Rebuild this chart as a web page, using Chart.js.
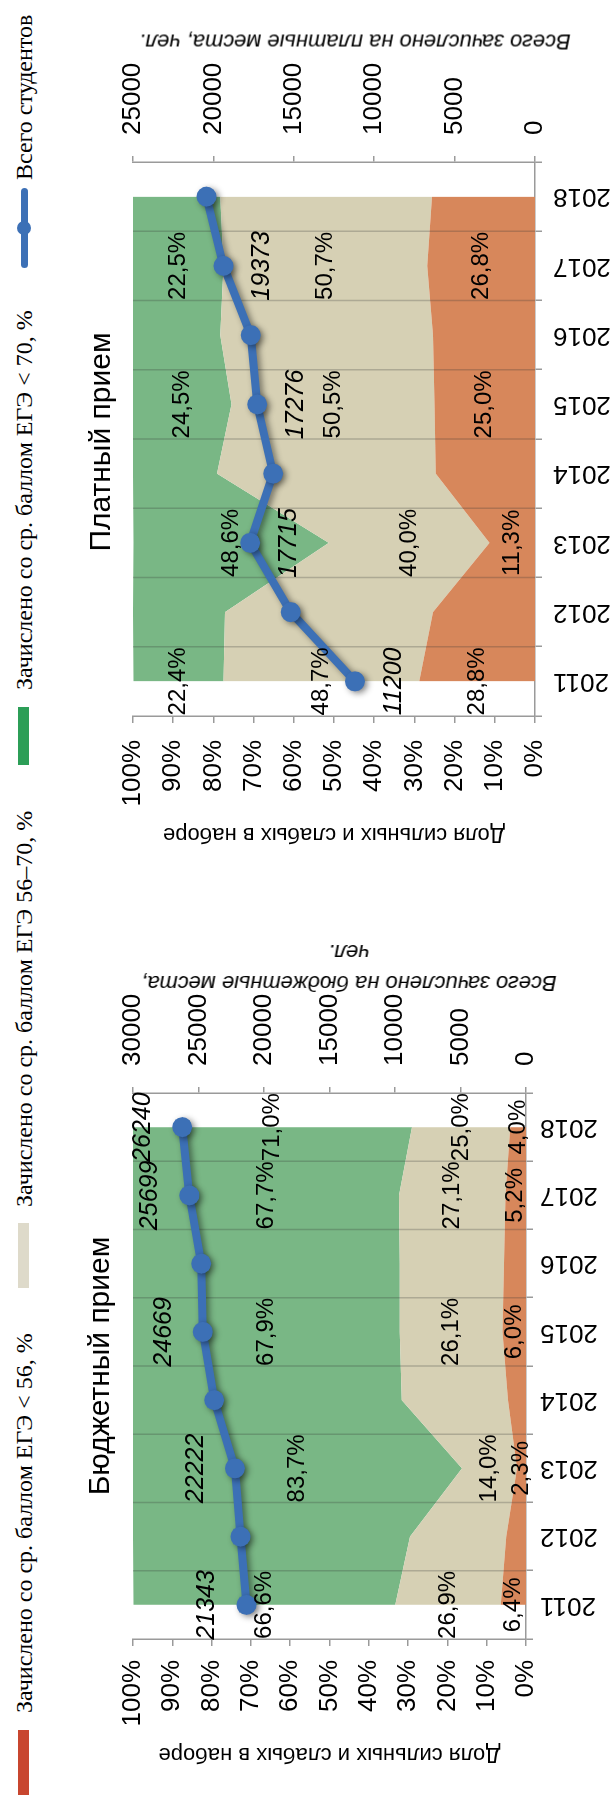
<!DOCTYPE html>
<html lang="ru">
<head>
<meta charset="UTF-8">
<title>Бюджетный и платный прием</title>
<script src="https://cdn.jsdelivr.net/npm/chart.js"></script>
<style>
    html, body { margin: 0; padding: 0; background: #fff; }
    body { width: 610px; height: 1799px; overflow: hidden; position: relative; }
    /* the picture is laid out landscape and turned a quarter to the left */
    #land {
        position: absolute; left: 0; top: 0;
        width: 1799px; height: 610px;
        transform-origin: 0 0;
        transform: translateY(1799px) rotate(-90deg);
        font-family: "Liberation Sans", Arial, sans-serif;
        color: #000;
    }
    canvas { position: absolute; top: 0; }
    .legend {
        position: absolute; top: 10px;
        font-family: "Liberation Serif", "Times New Roman", serif;
        font-size: 24px; line-height: 28px; white-space: nowrap;
    }
    .swatch { position: absolute; top: 18px; width: 65px; height: 11px; }
    .title { position: absolute; font-size: 30px; white-space: nowrap; transform: translate(-50%, -50%); }
    .rtitle {
        position: absolute; font-size: 22px; font-style: italic; line-height: 31px;
        text-align: center; white-space: nowrap;
        transform: translate(-50%, -50%) rotate(-90deg);
    }
</style>
</head>
<body>
<div id="land">
    <div class="swatch" style="left:4px; background:#c8462f"></div>
    <div class="legend" style="left:86px">Зачислено со ср. баллом ЕГЭ &lt; 56, %</div>
    <div class="swatch" style="left:511px; background:#dedaca"></div>
    <div class="legend" style="left:592px">Зачислено со ср. баллом ЕГЭ 56–70, %</div>
    <div class="swatch" style="left:1034px; width:58px; background:#2c9e57"></div>
    <div class="legend" style="left:1109px">Зачислено со ср. баллом ЕГЭ &lt; 70, %</div>
    <div style="position:absolute; left:1531px; top:21px; width:80px; height:7px; border-radius:4px; background:#3c70b6"></div>
    <div style="position:absolute; left:1564px; top:17px; width:14px; height:14px; border-radius:50%; background:#3c70b6"></div>
    <div class="legend" style="left:1619px">Всего студентов</div>

    <canvas id="budget" width="900" height="610" style="left:0"></canvas>
    <canvas id="paid" width="899" height="610" style="left:900px"></canvas>

    <div class="title" style="left:433px; top:99px">Бюджетный прием</div>
    <div class="title" style="left:1357px; top:100px">Платный прием</div>
    <div class="rtitle" style="left:831px; top:349px">Всего зачислено на бюджетные места,<br>чел.</div>
    <div class="rtitle" style="left:1757px; top:355px">Всего зачислено на платные места, чел.</div>
</div>

<script>
    const years = ["2011", "2012", "2013", "2014", "2015", "2016", "2017", "2018"];

    // Бюджетный прием, % of intake per score band, and total enrolled
    const budgetLow = [6.4, 5.0, 2.3, 4.6, 6.0, 5.6, 5.2, 4.0];
    const budgetMid = [26.9, 24.5, 14.0, 27.0, 26.1, 26.5, 27.1, 25.0];
    const budgetHigh = [66.6, 70.5, 83.7, 68.4, 67.9, 67.9, 67.7, 71.0];
    const budgetTotal = [21343, 21800, 22222, 23800, 24669, 24790, 25699, 26240];
    const budgetLabelled = [0, 2, 4, 6, 7];

    // Платный прием
    const paidLow = [28.8, 25.4, 11.3, 24.7, 25.0, 25.4, 26.8, 25.6];
    const paidMid = [48.7, 51.7, 40.0, 54.4, 50.5, 52.9, 50.7, 52.7];
    const paidHigh = [22.4, 22.9, 48.6, 20.9, 24.5, 21.7, 22.5, 21.7];
    const paidTotal = [11200, 15190, 17715, 16285, 17276, 17675, 19373, 20430];
    const paidLabelled = [0, 2, 4, 6];

    const lowColor = "#d7875b";
    const midColor = "#d6d0b4";
    const highColor = "#79b785";
    const lineColor = "#3c70b6";
    const axisColor = "#9a9a9a";

    Chart.defaults.font.family = '"Liberation Sans", Arial, sans-serif';
    Chart.defaults.color = "#000";

    const pct = v => v.toFixed(1).replace(".", ",") + "%";

    // gridlines over the areas, shadow under the line, data labels
    const overlay = {
        id: "overlay",
        beforeDatasetDraw(chart, args) {
            if (args.index === 0) {
                const ctx = chart.ctx;
                ctx.save();
                ctx.shadowColor = "rgba(0,0,0,0.45)";
                ctx.shadowBlur = 6;
                ctx.shadowOffsetX = -2;
                ctx.shadowOffsetY = 3;
            }
        },
        afterDatasetDraw(chart, args) {
            const ctx = chart.ctx;
            if (args.index === 0) {
                ctx.restore();
                return;
            }
            if (args.index === 1) {
                const x = chart.scales.x;
                const area = chart.chartArea;
                ctx.save();
                ctx.strokeStyle = "rgba(50,50,50,0.25)";
                ctx.lineWidth = 1.5;
                for (let i = 1; i < years.length; i++) {
                    const px = (x.getPixelForValue(i - 1) + x.getPixelForValue(i)) / 2;
                    ctx.beginPath();
                    ctx.moveTo(px, area.top);
                    ctx.lineTo(px, area.bottom);
                    ctx.stroke();
                }
                ctx.restore();
            }
        },
        afterDatasetsDraw(chart, args, opts) {
            const ctx = chart.ctx;
            const x = chart.scales.x, y = chart.scales.y, y2 = chart.scales.y2;
            ctx.save();
            ctx.fillStyle = "#000";
            ctx.textAlign = "center";
            ctx.textBaseline = "middle";
            opts.at.forEach(i => {
                const px = x.getPixelForValue(i);
                let base = 0;
                ctx.font = '24px "Liberation Sans", Arial, sans-serif';
                [opts.low[i], opts.mid[i], opts.high[i]].forEach(v => {
                    ctx.fillText(pct(v), px, y.getPixelForValue(base + v / 2));
                    base += v;
                });
                ctx.font = 'italic 25px "Liberation Sans", Arial, sans-serif';
                ctx.fillText(String(opts.total[i]), px, y2.getPixelForValue(opts.total[i]) + opts.shift);
            });
            ctx.restore();
        }
    };

    function areaSet(values, color, fill) {
        return {
            data: values, yAxisID: "y", fill: fill,
            backgroundColor: color, borderColor: color, borderWidth: 0,
            pointRadius: 0, pointHoverRadius: 0, tension: 0
        };
    }

    function buildChart(id, d) {
        return new Chart(document.getElementById(id), {
            type: "line",
            data: {
                labels: years,
                datasets: [
                    {
                        data: d.total, yAxisID: "y2", fill: false,
                        borderColor: lineColor, backgroundColor: lineColor,
                        borderWidth: 8, borderJoinStyle: "round", borderCapStyle: "round",
                        pointRadius: 10, pointHoverRadius: 10, pointBorderWidth: 0,
                        pointBackgroundColor: lineColor, tension: 0
                    },
                    areaSet(d.low, lowColor, "origin"),
                    areaSet(d.mid, midColor, "-1"),
                    areaSet(d.high, highColor, "-1")
                ]
            },
            options: {
                responsive: false,
                animation: false,
                devicePixelRatio: 1,
                layout: { padding: { top: d.top, left: 0, right: 0, bottom: 0 } },
                plugins: {
                    legend: { display: false },
                    tooltip: { enabled: false },
                    overlay: { at: d.at, low: d.low, mid: d.mid, high: d.high, total: d.total, shift: d.shift }
                },
                scales: {
                    x: {
                        offset: true,
                        grid: { offset: true, drawOnChartArea: false, tickLength: 7, color: axisColor, lineWidth: 1.5 },
                        border: { color: axisColor, width: 1.5 },
                        ticks: { font: { size: 26 }, minRotation: 90, maxRotation: 90, autoSkip: false, padding: d.xPad },
                        afterFit: s => { s.height = d.xHeight; }
                    },
                    y: {
                        position: "left", stacked: true, min: 0, max: 100,
                        grid: { drawOnChartArea: false, tickLength: 7, color: axisColor, lineWidth: 1.5 },
                        border: { color: axisColor, width: 1.5 },
                        ticks: { stepSize: 10, font: { size: 26 }, padding: d.yPad, callback: v => v + "%" },
                        title: {
                            display: true, text: "Доля сильных и слабых в наборе",
                            font: { size: 22 }, padding: { top: d.titlePad, bottom: 0 }
                        },
                        afterFit: s => { s.width = d.yWidth; }
                    },
                    y2: {
                        position: "right", min: 0, max: d.totalMax,
                        grid: { drawOnChartArea: false, tickLength: 6, color: axisColor, lineWidth: 1.5 },
                        border: { color: axisColor, width: 1.5 },
                        ticks: { stepSize: 5000, font: { size: 26 }, padding: 21, callback: v => String(v) },
                        afterFit: s => { s.width = d.y2Width; }
                    }
                }
            },
            plugins: [overlay]
        });
    }

    buildChart("budget", {
        low: budgetLow, mid: budgetMid, high: budgetHigh, total: budgetTotal, at: budgetLabelled,
        totalMax: 30000, shift: -39,
        top: 133, yWidth: 160, y2Width: 194, xHeight: 84,
        xPad: 7, yPad: 14, titlePad: 32
    });

    buildChart("paid", {
        low: paidLow, mid: paidMid, high: paidHigh, total: paidTotal, at: paidLabelled,
        totalMax: 25000, shift: 39,
        top: 133, yWidth: 183, y2Width: 162, xHeight: 75,
        xPad: 11, yPad: 17, titlePad: 52
    });
</script>
</body>
</html>
